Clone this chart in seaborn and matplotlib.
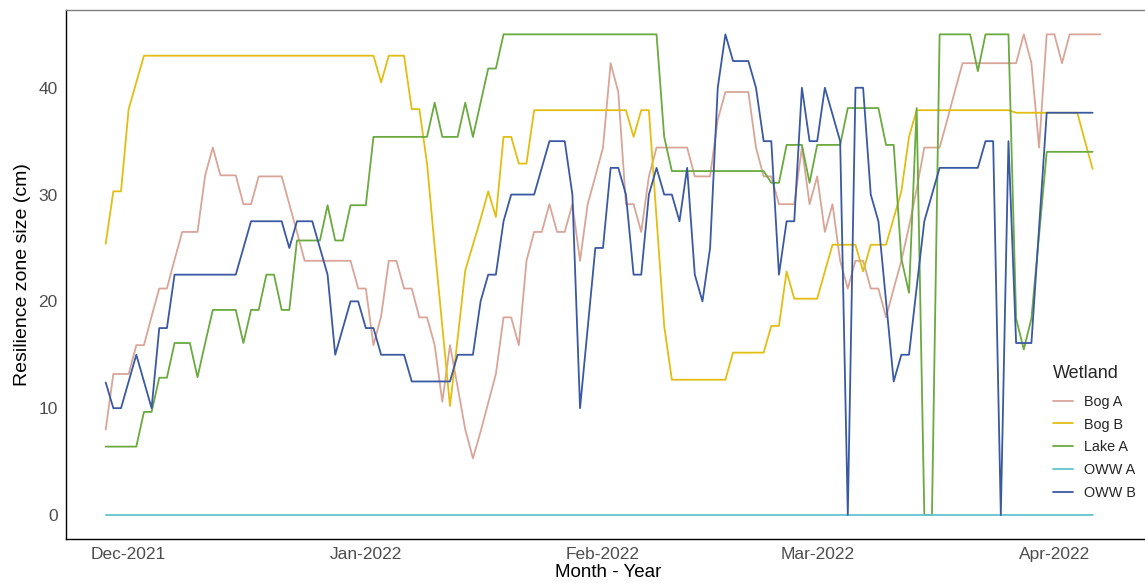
import matplotlib
matplotlib.use("Agg")
import matplotlib.pyplot as plt
import matplotlib.dates as mdates
import pandas as pd
import seaborn as sns

# Daily resilience zone size (cm) per wetland, starting 28 Nov 2021
start_date = "2021-11-28"

wetlands = ["Bog A", "Bog B", "Lake A", "OWW A", "OWW B"]

bog_a = [
    8.0, 13.2, 13.2, 13.2, 15.9, 15.9, 18.6, 21.2, 21.2, 23.9,
    26.5, 26.5, 26.5, 31.8, 34.4, 31.8, 31.8, 31.8, 29.1, 29.1,
    31.7, 31.7, 31.7, 31.7, 29.1, 26.5, 23.8, 23.8, 23.8, 23.8,
    23.8, 23.8, 23.8, 21.2, 21.2, 15.9, 18.6, 23.8, 23.8, 21.2,
    21.2, 18.5, 18.5, 15.9, 10.6, 15.9, 12.0, 8.0, 5.3, 7.8,
    10.5, 13.2, 18.5, 18.5, 15.9, 23.8, 26.5, 26.5, 29.1, 26.5,
    26.5, 29.1, 23.8, 29.1, 31.7, 34.4, 42.3, 39.6, 29.1, 29.1,
    26.5, 31.7, 34.4, 34.4, 34.4, 34.4, 34.4, 31.7, 31.7, 31.7,
    37.0, 39.6, 39.6, 39.6, 39.6, 34.4, 31.7, 31.7, 29.1, 29.1,
    29.1, 34.4, 29.1, 31.7, 26.5, 29.1, 23.8, 21.2, 23.8, 23.8,
    21.2, 21.2, 18.5, 21.2, 23.8, 27.0, 30.5, 34.4, 34.4, 34.4,
    37.0, 39.7, 42.3, 42.3, 42.3, 42.3, 42.3, 42.3, 42.3, 42.3,
    45.0, 42.3, 34.4, 45.0, 45.0, 42.3, 45.0, 45.0, 45.0, 45.0,
    45.0,
]

bog_b = [
    25.4, 30.3, 30.3, 38.0, 40.5, 43.0, 43.0, 43.0, 43.0, 43.0,
    43.0, 43.0, 43.0, 43.0, 43.0, 43.0, 43.0, 43.0, 43.0, 43.0,
    43.0, 43.0, 43.0, 43.0, 43.0, 43.0, 43.0, 43.0, 43.0, 43.0,
    43.0, 43.0, 43.0, 43.0, 43.0, 43.0, 40.5, 43.0, 43.0, 43.0,
    38.0, 38.0, 32.9, 25.1, 17.7, 10.2, 16.5, 22.9, 25.3, 27.7,
    30.3, 27.9, 35.4, 35.4, 32.9, 32.9, 37.9, 37.9, 37.9, 37.9,
    37.9, 37.9, 37.9, 37.9, 37.9, 37.9, 37.9, 37.9, 37.9, 35.4,
    37.9, 37.9, 27.8, 17.7, 12.66, 12.66, 12.66, 12.66, 12.66, 12.66,
    12.66, 12.66, 15.2, 15.2, 15.2, 15.2, 15.2, 17.7, 17.7, 22.8,
    20.25, 20.25, 20.25, 20.25, 22.8, 25.3, 25.3, 25.3, 25.3, 22.8,
    25.3, 25.3, 25.3, 27.8, 30.3, 35.4, 37.9, 37.9, 37.9, 37.9,
    37.9, 37.9, 37.9, 37.9, 37.9, 37.9, 37.9, 37.9, 37.9, 37.66,
    37.66, 37.66, 37.66, 37.66, 37.66, 37.66, 37.66, 37.66, 35.0, 32.4,
]

lake_a = [
    6.4, 6.4, 6.4, 6.4, 6.4, 9.65, 9.65, 12.85, 12.85, 16.1,
    16.1, 16.1, 12.9, 16.1, 19.2, 19.2, 19.2, 19.2, 16.1, 19.2,
    19.2, 22.5, 22.5, 19.2, 19.2, 25.7, 25.7, 25.7, 25.7, 29.0,
    25.7, 25.7, 29.0, 29.0, 29.0, 35.4, 35.4, 35.4, 35.4, 35.4,
    35.4, 35.4, 35.4, 38.6, 35.4, 35.4, 35.4, 38.6, 35.4, 38.6,
    41.8, 41.8, 45.0, 45.0, 45.0, 45.0, 45.0, 45.0, 45.0, 45.0,
    45.0, 45.0, 45.0, 45.0, 45.0, 45.0, 45.0, 45.0, 45.0, 45.0,
    45.0, 45.0, 45.0, 35.4, 32.2, 32.2, 32.2, 32.2, 32.2, 32.2,
    32.2, 32.2, 32.2, 32.2, 32.2, 32.2, 32.2, 31.1, 31.1, 34.65,
    34.65, 34.65, 31.1, 34.65, 34.65, 34.65, 34.65, 38.1, 38.1, 38.1,
    38.1, 38.1, 34.65, 34.65, 24.0, 20.8, 38.1, 0.0, 0.0, 45.0,
    45.0, 45.0, 45.0, 45.0, 41.55, 45.0, 45.0, 45.0, 45.0, 18.4,
    15.5, 18.4, 26.2, 34.0, 34.0, 34.0, 34.0, 34.0, 34.0, 34.0,
]

oww_a = [0.0] * 130

oww_b = [
    12.4, 10.0, 10.0, 12.5, 15.0, 12.5, 10.0, 17.5, 17.5, 22.5,
    22.5, 22.5, 22.5, 22.5, 22.5, 22.5, 22.5, 22.5, 25.0, 27.5,
    27.5, 27.5, 27.5, 27.5, 25.0, 27.5, 27.5, 27.5, 25.0, 22.5,
    15.0, 17.5, 20.0, 20.0, 17.5, 17.5, 15.0, 15.0, 15.0, 15.0,
    12.5, 12.5, 12.5, 12.5, 12.5, 12.5, 15.0, 15.0, 15.0, 20.0,
    22.5, 22.5, 27.5, 30.0, 30.0, 30.0, 30.0, 32.5, 35.0, 35.0,
    35.0, 30.0, 10.0, 17.5, 25.0, 25.0, 32.5, 32.5, 30.0, 22.5,
    22.5, 30.0, 32.5, 30.0, 30.0, 27.5, 32.5, 22.5, 20.0, 25.0,
    40.0, 45.0, 42.5, 42.5, 42.5, 40.0, 35.0, 35.0, 22.5, 27.5,
    27.5, 40.0, 35.0, 35.0, 40.0, 37.5, 35.0, 0.0, 40.0, 40.0,
    30.0, 27.5, 20.0, 12.5, 15.0, 15.0, 21.3, 27.5, 30.0, 32.5,
    32.5, 32.5, 32.5, 32.5, 32.5, 35.0, 35.0, 0.0, 35.0, 16.1,
    16.1, 16.1, 26.9, 37.66, 37.66, 37.66, 37.66, 37.66, 37.66, 37.66,
]

colors = ["#D9A598", "#E2BE12", "#6AAA3E", "#63C4D2", "#3A59A3"]

series = [bog_a, bog_b, lake_a, oww_a, oww_b]
frames = []
for name, vals in zip(wetlands, series):
    frames.append(pd.DataFrame({
        "date": pd.date_range(start_date, periods=len(vals), freq="D"),
        "size": vals,
        "Wetland": name,
    }))
df = pd.concat(frames, ignore_index=True)

sns.set_theme(style="white")
plt.rcParams["font.family"] = ["Liberation Sans", "DejaVu Sans"]

W, H = 1145, 583
fig = plt.figure(figsize=(W / 100, H / 100), dpi=100)
ax = fig.add_axes([66 / W, 1 - 539 / H, (1150 - 66) / W, (539 - 10) / H])

sns.lineplot(
    data=df, x="date", y="size", hue="Wetland", hue_order=wetlands,
    palette=dict(zip(wetlands, colors)), estimator=None, errorbar=None,
    linewidth=1.3, ax=ax,
)

t0 = mdates.date2num(pd.Timestamp(start_date))
ax.set_xlim(t0 - 5.19, t0 + 136.5)
ax.set_ylim(-2.25, 47.28)
ax.set_yticks([0, 10, 20, 30, 40])
ax.xaxis.set_major_locator(mdates.MonthLocator())
ax.xaxis.set_major_formatter(mdates.DateFormatter("%b-%Y"))

ax.set_xlabel("Month - Year", fontsize=13.5, color="black", labelpad=1)
ax.set_ylabel("Resilience zone size (cm)", fontsize=14, color="black", labelpad=5)
ax.tick_params(axis="both", length=4, width=0.8, color="#333333",
               labelcolor="#4D4D4D", labelsize=12.5, pad=2)

for side in ["left", "bottom"]:
    ax.spines[side].set_color("black")
    ax.spines[side].set_linewidth(1.0)
ax.spines["top"].set_color("#7F7F7F")
ax.spines["top"].set_linewidth(1.0)
ax.spines["right"].set_visible(False)

handles, labels = ax.get_legend_handles_labels()
leg = ax.legend(
    handles, labels, title="Wetland", loc="upper left",
    bbox_to_anchor=(1046 / W, 1 - 358 / H), bbox_transform=fig.transFigure,
    frameon=False, fontsize=10.4, title_fontsize=13, borderpad=0,
    handlelength=1.4, handletextpad=0.75, labelspacing=0.61,
    alignment="left",
)
leg._legend_box.sep = 9
for line in leg.get_lines():
    line.set_linewidth(1.3)

fig.savefig("out.png", dpi=100)
